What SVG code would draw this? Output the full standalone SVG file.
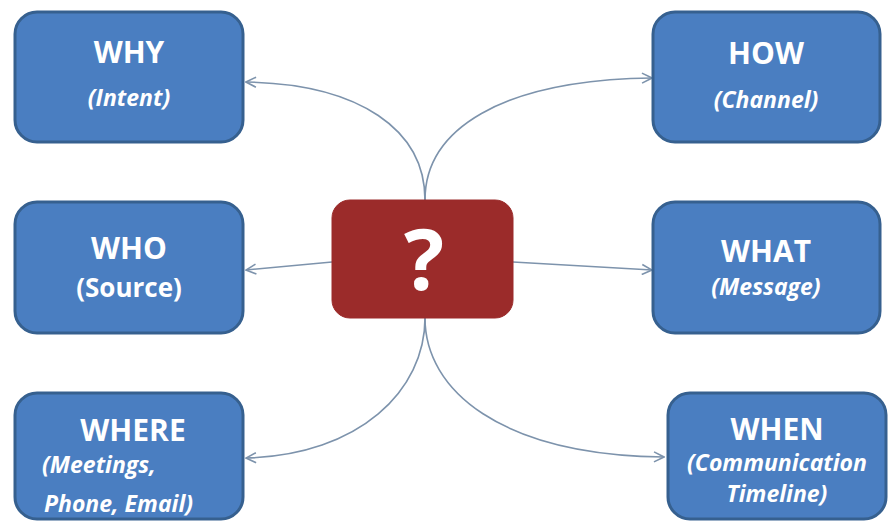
<svg xmlns="http://www.w3.org/2000/svg" width="889" height="525" viewBox="0 0 889 525">
<style>
.box{fill:#4A7EC1;stroke:#36608F;stroke-width:3}
.center{fill:#9B2B2A;stroke:#9B2B2A;stroke-width:1}
.t{font-family:"Open Sans","Liberation Sans",sans-serif;font-weight:bold;fill:#FFFFFF;text-anchor:middle}
.l{text-anchor:start}
.h{font-size:30px}
.s{font-size:23px;font-style:italic}
.c{fill:none;stroke:#7D93AC;stroke-width:1.6;marker-end:url(#arr)}
</style>
<defs>
<marker id="arr" viewBox="0 0 12 12" refX="11" refY="6" markerWidth="12" markerHeight="12" markerUnits="userSpaceOnUse" orient="auto">
<path d="M1 1 L11 6 L1 11" fill="none" stroke="#7D93AC" stroke-width="1.6"/>
</marker>
</defs>
<rect width="889" height="525" fill="#FFFFFF"/>
<g id="connectors">
<path class="c" d="M425 200 C425 130 360 84 246 82"/>
<path class="c" d="M425 200 C425 130 500 80 652 78"/>
<path class="c" d="M332 262 L246 270"/>
<path class="c" d="M513 262 L652 270"/>
<path class="c" d="M425 318 C425 390 360 455 246 458"/>
<path class="c" d="M425 318 C425 390 500 455 664 457"/>
</g>
<g id="why">
<rect class="box" x="15" y="12" width="228" height="130" rx="22"/>
<text class="t h" x="129" y="63">WHY</text>
<text class="t s" x="129" y="106">(Intent)</text>
</g>
<g id="how">
<rect class="box" x="653" y="12" width="227" height="130" rx="22"/>
<text class="t h" x="766" y="64">HOW</text>
<text class="t s" x="766" y="108">(Channel)</text>
</g>
<g id="who">
<rect class="box" x="15" y="202" width="228" height="131" rx="22"/>
<text class="t h" x="129" y="259">WHO</text>
<text class="t" x="129" y="297" font-size="26">(Source)</text>
</g>
<g id="what">
<rect class="box" x="653" y="202" width="227" height="131" rx="22"/>
<text class="t h" x="766" y="262">WHAT</text>
<text class="t s" x="766" y="295">(Message)</text>
</g>
<g id="where">
<rect class="box" x="15" y="393" width="228" height="126" rx="22"/>
<text class="t h" x="133" y="441">WHERE</text>
<text class="t s l" x="42" y="473" font-size="22">(Meetings,</text>
<text class="t s l" x="44" y="512" font-size="22">Phone, Email)</text>
</g>
<g id="when">
<rect class="box" x="668" y="393" width="218" height="126" rx="22"/>
<text class="t h" x="777" y="440">WHEN</text>
<text class="t s" x="777" y="471" font-size="19">(Communication</text>
<text class="t s" x="777" y="502" font-size="19">Timeline)</text>
</g>
<g id="center">
<rect class="center" x="332" y="200" width="181" height="118" rx="18"/>
<text class="t" x="424" y="290" font-size="84">?</text>
</g>
</svg>
